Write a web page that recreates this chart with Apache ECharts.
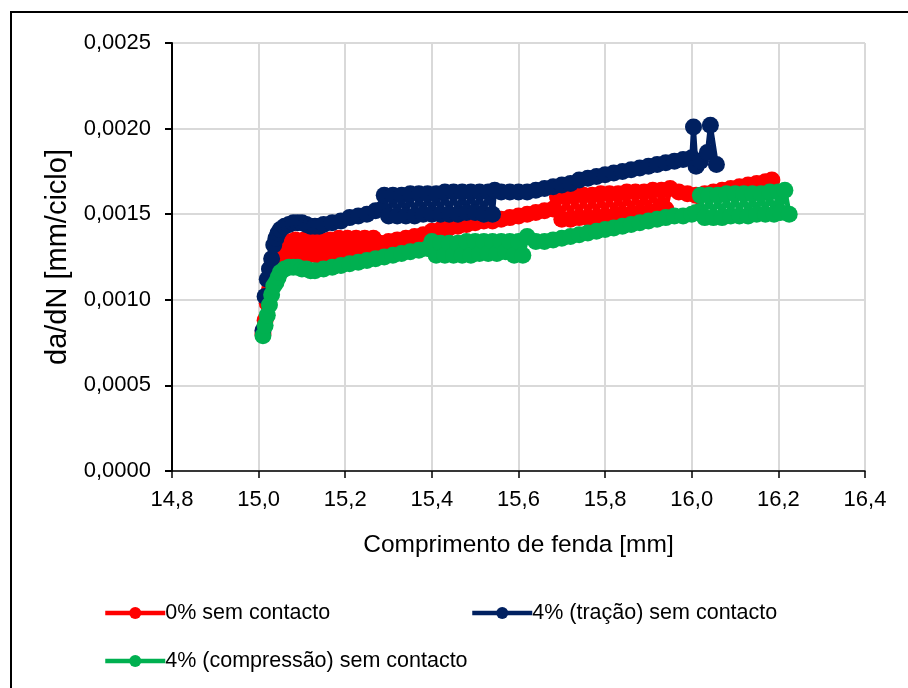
<!DOCTYPE html>
<html>
<head>
<meta charset="utf-8">
<script src="https://cdn.jsdelivr.net/npm/echarts@6/dist/echarts.min.js"></script>
<style>
html,body{margin:0;padding:0;background:#fff;}
#chart{width:908px;height:688px;}
</style>
</head>
<body>
<div id="chart"></div>
<script>
var seriesNames = ['0% sem contacto', '4% (tração) sem contacto', '4% (compressão) sem contacto'];
var xTitle = 'Comprimento de fenda [mm]';
var yTitle = 'da/dN [mm/ciclo]';

var redX = [15.010,15.015,15.020,15.025,15.030,15.035,15.040,15.045,15.050,15.055,15.060,
  15.065,15.075,15.085,15.095,15.105,15.115,15.125,15.135,15.145,15.155,15.165,15.175,15.185,15.195,15.205,15.215,15.225,15.235,15.245,15.255,15.265,
  15.28,15.30,15.32,15.34,15.36,15.38,15.40,15.42,15.44,15.46,15.48,15.50,15.52,15.54,15.56,15.58,15.60,15.62,15.64,15.66,15.68,
  15.69,15.70,15.71,15.72,15.73,15.74,15.75,15.76,15.77,15.78,15.79,15.80,15.81,15.82,15.83,15.84,15.85,15.86,15.87,15.88,15.89,15.90,15.91,15.92,15.93,15.94,15.95,
  15.97,15.99,16.01,16.03,16.05,16.07,16.09,16.11,16.13,16.15,16.17,16.185];
var redY = [0.00080,0.00088,0.00098,0.00106,0.00113,0.00119,0.00123,0.00126,0.00128,0.00130,0.00131,
  0.00134,0.00126,0.00135,0.00126,0.00135,0.00126,0.00135,0.00126,0.00135,0.00127,0.00135,0.00127,0.00136,0.00127,0.00136,0.00128,0.00136,0.00128,0.00136,0.00129,0.00136,
  0.00133,0.00134,0.00135,0.00136,0.00137,0.00138,0.00140,0.00141,0.00142,0.00143,0.00144,0.00145,0.00146,0.00146,0.00147,0.00148,0.00149,0.00150,0.00151,0.00152,0.00153,
  0.00160,0.00147,0.00160,0.00147,0.00161,0.00148,0.00161,0.00148,0.00161,0.00148,0.00162,0.00149,0.00162,0.00149,0.00162,0.00150,0.00163,0.00150,0.00163,0.00151,0.00163,0.00151,0.00164,0.00152,0.00164,0.00153,0.00165,
  0.00163,0.00162,0.00161,0.00162,0.00163,0.00164,0.00165,0.00166,0.00167,0.00168,0.00169,0.00170];

var blueX = [15.010,15.015,15.020,15.025,15.030,15.035,15.040,15.045,15.050,15.060,15.070,15.080,15.090,15.100,15.110,15.120,15.130,15.140,15.150,15.170,15.190,15.210,15.230,15.250,15.270,15.285,
  15.29,15.30,15.31,15.32,15.33,15.34,15.35,15.36,15.37,15.38,15.39,15.40,15.41,15.42,15.43,15.44,15.45,15.46,15.47,15.48,15.49,15.50,15.51,15.52,15.53,15.54,15.545,
  15.56,15.58,15.60,15.62,15.64,15.66,15.68,15.70,15.72,15.74,15.76,15.78,15.80,15.82,15.84,15.86,15.88,15.90,15.92,15.94,15.96,15.98,16.000,
  16.004,16.010,16.020,16.036,16.043,16.057];
var blueY = [0.00082,0.00102,0.00112,0.00118,0.00124,0.00132,0.00136,0.00139,0.00141,0.00143,0.00144,0.00145,0.00145,0.00145,0.00144,0.00143,0.00143,0.00143,0.00144,0.00145,0.00146,0.00148,0.00149,0.00150,0.00152,0.00153,
  0.00161,0.00149,0.00161,0.00149,0.00161,0.00149,0.00162,0.00149,0.00162,0.00150,0.00162,0.00150,0.00162,0.00150,0.00163,0.00150,0.00163,0.00150,0.00163,0.00151,0.00163,0.00151,0.00163,0.00150,0.00163,0.00150,0.00164,
  0.00163,0.00163,0.00163,0.00163,0.00164,0.00165,0.00166,0.00167,0.00168,0.00170,0.00171,0.00172,0.00173,0.00174,0.00175,0.00176,0.00177,0.00178,0.00179,0.00180,0.00181,0.00182,0.00183,
  0.00201,0.00178,0.00181,0.00186,0.00202,0.00179];

var greenX = [15.010,15.015,15.020,15.025,15.030,15.035,15.040,15.045,15.050,15.060,15.070,15.080,15.090,15.100,15.110,15.120,15.130,15.150,15.170,15.190,15.210,15.230,15.250,15.270,15.290,15.310,15.330,15.350,15.370,15.390,
  15.40,15.41,15.42,15.43,15.44,15.45,15.46,15.47,15.48,15.49,15.50,15.51,15.52,15.53,15.54,15.55,15.56,15.57,15.58,15.59,15.60,15.61,15.62,
  15.64,15.66,15.68,15.70,15.72,15.74,15.76,15.78,15.80,15.82,15.84,15.86,15.88,15.90,15.92,15.94,15.96,15.98,16.00,16.01,
  16.02,16.03,16.04,16.05,16.06,16.07,16.08,16.09,16.10,16.11,16.12,16.13,16.14,16.15,16.16,16.17,16.18,16.19,16.20,16.205,16.215,16.225];
var greenY = [0.00079,0.00085,0.00091,0.00097,0.00103,0.00108,0.00110,0.00113,0.00116,0.00118,0.00119,0.00119,0.00119,0.00118,0.00118,0.00117,0.00117,0.00118,0.00119,0.00120,0.00121,0.00122,0.00123,0.00124,0.00125,0.00126,0.00127,0.00128,0.00129,0.00130,
  0.00134,0.00126,0.00133,0.00126,0.00133,0.00126,0.00133,0.00126,0.00134,0.00126,0.00134,0.00127,0.00134,0.00127,0.00134,0.00127,0.00134,0.00128,0.00134,0.00126,0.00134,0.00126,0.00137,
  0.00134,0.00134,0.00135,0.00136,0.00137,0.00138,0.00139,0.00140,0.00141,0.00142,0.00143,0.00144,0.00145,0.00146,0.00147,0.00148,0.00149,0.00149,0.00150,0.00151,
  0.00161,0.00148,0.00161,0.00148,0.00161,0.00148,0.00162,0.00149,0.00162,0.00149,0.00162,0.00149,0.00162,0.00150,0.00162,0.00150,0.00163,0.00150,0.00163,0.00151,0.00164,0.00150];

var colors = ['#FF0000', '#002060', '#00B050'];

function pairs(xs, ys) {
  var out = [];
  for (var i = 0; i < xs.length; i++) out.push([xs[i], ys[i]]);
  return out;
}

var FONT = 'Liberation Sans';
var chart = echarts.init(document.getElementById('chart'), null, {renderer: 'canvas'});

function mkSeries(name, xs, ys, color) {
  return {
    name: name,
    type: 'line',
    data: pairs(xs, ys),
    symbol: 'circle',
    symbolSize: 17,
    showAllSymbol: true,
    lineStyle: {color: color, width: 5},
    itemStyle: {color: color, borderWidth: 0},
    emphasis: {disabled: true},
    z: 2
  };
}

function mkLegend(name, left, top) {
  return {
    data: [name],
    left: left,
    top: top,
    padding: 0,
    orient: 'horizontal',
    itemWidth: 60,
    itemHeight: 15,
    itemGap: 0,
    lineStyle: {width: 4.5},
    textStyle: {fontFamily: FONT, fontSize: 21.5, color: '#000', padding: [0, 0, 0, -5]},
    selectedMode: false
  };
}

chart.setOption({
  animation: false,
  backgroundColor: '#fff',
  grid: {left: 172, right: 43, top: 43, bottom: 217, containLabel: false},
  xAxis: {
    type: 'value',
    min: 14.8, max: 16.4, interval: 0.2,
    name: xTitle,
    nameLocation: 'middle',
    nameGap: 62,
    nameTextStyle: {fontFamily: FONT, fontSize: 24.5, color: '#000'},
    axisLine: {show: true, onZero: false, lineStyle: {color: '#000', width: 1.5}},
    axisTick: {show: true, inside: false, length: 7, lineStyle: {color: '#000', width: 1.5}},
    axisLabel: {
      fontFamily: FONT, fontSize: 22, color: '#000', margin: 18,
      formatter: function (v) { return v.toFixed(1).replace('.', ','); }
    },
    splitLine: {show: true, lineStyle: {color: '#d9d9d9', width: 2}}
  },
  yAxis: {
    type: 'value',
    min: 0, max: 0.0025, interval: 0.0005,
    name: yTitle,
    nameLocation: 'middle',
    nameGap: 92,
    nameRotate: 90,
    nameTextStyle: {fontFamily: FONT, fontSize: 29, color: '#000'},
    axisLine: {show: true, lineStyle: {color: '#000', width: 2}},
    axisTick: {show: true, inside: false, length: 7, lineStyle: {color: '#000', width: 2}},
    axisLabel: {
      fontFamily: FONT, fontSize: 22, color: '#000', margin: 21,
      formatter: function (v) { return v.toFixed(4).replace('.', ','); }
    },
    splitLine: {show: true, lineStyle: {color: '#d9d9d9', width: 2}}
  },
  legend: [
    mkLegend(seriesNames[0], 103, 602),
    mkLegend(seriesNames[1], 470, 602),
    mkLegend(seriesNames[2], 103, 650)
  ],
  graphic: [{
    type: 'rect',
    shape: {x: 11, y: 12, width: 1000, height: 1000},
    style: {fill: 'none', stroke: '#000', lineWidth: 2},
    silent: true,
    z: 100
  }],
  series: [
    mkSeries(seriesNames[0], redX, redY, colors[0]),
    mkSeries(seriesNames[1], blueX, blueY, colors[1]),
    mkSeries(seriesNames[2], greenX, greenY, colors[2])
  ]
});
</script>
</body>
</html>
